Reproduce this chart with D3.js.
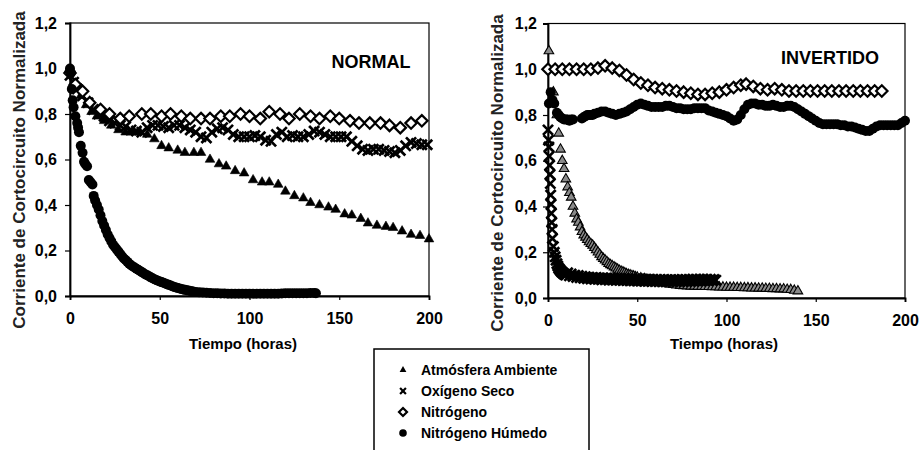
<!DOCTYPE html>
<html><head><meta charset="utf-8">
<script src="https://cdn.jsdelivr.net/npm/d3@7"></script>
<style>body{margin:0;background:#fff}svg{display:block}</style>
</head><body>
<svg id="chart" width="924" height="450"></svg>
<script>
// ---------- DATA ----------
const yTicks = [0, 0.2, 0.4, 0.6, 0.8, 1.0, 1.2];
const xTicks = [0, 50, 100, 150, 200];
const seriesNames = ["Atmósfera Ambiente", "Oxígeno Seco", "Nitrógeno", "Nitrógeno Húmedo"];
const panelTitles = ["NORMAL", "INVERTIDO"];
const xTitle = "Tiempo (horas)";
const yTitle = "Corriente de Cortocircuito Normalizada";

// NORMAL panel  [hours, value]
const ambienteNormal = [[0,0.99],[3,0.93],[6,0.88],[9,0.84],[12,0.81],[15,0.79],[19,0.77],[23,0.75],[27,0.73],[31,0.72],[35,0.72],[39,0.72],[43,0.71],[47,0.69],[51,0.66],[55,0.65],[60,0.64],[64,0.63],[69,0.63],[73,0.63],[78,0.60],[83,0.58],[87,0.57],[92,0.55],[97,0.54],[102,0.51],[107,0.50],[111,0.50],[116,0.49],[120,0.46],[125,0.44],[130,0.43],[134,0.41],[139,0.40],[144,0.39],[148,0.38],[153,0.36],[157,0.355],[162,0.34],[166,0.32],[171,0.31],[176,0.305],[180,0.30],[185,0.285],[190,0.27],[195,0.265],[200,0.25]];
const oxigenoNormal = [[0,0.97],[2,0.94],[4,0.91],[7,0.88],[10,0.85],[13,0.82],[16,0.80],[19,0.79],[22,0.77],[25,0.76],[28,0.75],[31,0.745],[34,0.73],[37,0.725],[40,0.72],[43,0.74],[46,0.75],[49,0.75],[52,0.745],[55,0.74],[58,0.75],[61,0.75],[64,0.74],[67,0.73],[70,0.72],[73,0.70],[76,0.695],[79,0.72],[82,0.735],[85,0.74],[88,0.73],[91,0.71],[94,0.70],[97,0.70],[100,0.70],[103,0.705],[106,0.70],[109,0.685],[112,0.68],[115,0.71],[118,0.72],[121,0.70],[124,0.705],[127,0.70],[130,0.70],[133,0.71],[136,0.725],[139,0.72],[142,0.71],[145,0.70],[148,0.70],[151,0.70],[154,0.70],[157,0.68],[160,0.66],[163,0.645],[166,0.64],[169,0.645],[172,0.645],[175,0.64],[178,0.635],[181,0.63],[184,0.64],[187,0.66],[190,0.675],[193,0.67],[196,0.665],[199,0.665]];
const nitrogenoNormal = [[0,0.98],[3,0.93],[7,0.90],[11,0.85],[17,0.82],[22,0.80],[28,0.78],[33,0.79],[40,0.80],[45,0.80],[51,0.79],[56,0.80],[62,0.79],[67,0.78],[73,0.78],[78,0.78],[84,0.79],[89,0.79],[95,0.80],[100,0.79],[106,0.78],[111,0.81],[117,0.80],[122,0.78],[128,0.80],[134,0.79],[139,0.78],[145,0.79],[150,0.78],[156,0.77],[161,0.76],[167,0.76],[173,0.76],[178,0.75],[184,0.74],[190,0.76],[196,0.77]];
const humedoNormal = [[0,1.0],[0.5,0.98],[1,0.91],[1.5,0.86],[2,0.83],[3,0.79],[4,0.76],[4.5,0.74],[5,0.72],[6,0.66],[7,0.63],[7.8,0.59],[8.5,0.58],[9.5,0.57],[10.5,0.51],[11.5,0.50],[12.5,0.49],[13.2,0.44],[14,0.42],[15,0.40],[16,0.38],[17,0.355],[18,0.33],[19,0.31],[20,0.29],[21,0.27],[22,0.255],[23,0.24],[24,0.225],[25,0.215],[26,0.205],[27,0.195],[28,0.185],[29,0.175],[30,0.165],[31,0.158],[32,0.15],[33,0.142],[34,0.135],[35,0.13],[36,0.125],[37,0.12],[38,0.115],[39,0.11],[40,0.105],[41,0.1],[42,0.095],[43,0.091],[44,0.087],[45,0.082],[46,0.078],[47,0.074],[48,0.07],[49,0.067],[50,0.064],[51,0.061],[52,0.058],[53,0.055],[54,0.052],[55,0.049],[56,0.046],[57,0.043],[58,0.04],[59,0.037],[60,0.035],[61,0.033],[62,0.031],[63,0.029],[64,0.027],[65,0.025],[66,0.024],[67,0.022],[68,0.021],[69,0.019],[70,0.018],[72,0.016],[74,0.015],[76,0.014],[78,0.013],[80,0.012],[82,0.012],[84,0.011],[86,0.011],[88,0.01],[90,0.01],[92,0.01],[94,0.01],[96,0.01],[98,0.01],[100,0.01],[102,0.01],[104,0.01],[106,0.01],[108,0.01],[110,0.01],[112,0.01],[114,0.01],[116,0.01],[118,0.011],[120,0.012],[122,0.012],[124,0.012],[126,0.012],[128,0.012],[130,0.012],[132,0.012],[134,0.013],[136,0.013],[137,0.012]];

// INVERTIDO panel  [hours, value]
const ambienteInvertido = [[0.5,1.08],[3,0.90],[5,0.80],[6,0.72],[7,0.65],[8,0.60],[9,0.565],[10,0.52],[11,0.485],[12,0.46],[13,0.44],[14,0.40],[15,0.37],[16,0.345],[17,0.33],[18,0.31],[19,0.29],[20,0.275],[21,0.265],[22,0.255],[23,0.245],[24,0.237],[25,0.23],[26,0.22],[27,0.21],[28,0.2],[29,0.19],[30,0.18],[31,0.172],[32,0.165],[33,0.158],[34,0.15],[35,0.145],[36,0.14],[37,0.135],[38,0.13],[39,0.125],[40,0.12],[41,0.116],[42,0.113],[43,0.109],[44,0.105],[45,0.102],[46,0.1],[47,0.097],[48,0.095],[49,0.092],[50,0.09],[52,0.087],[54,0.084],[56,0.08],[58,0.077],[60,0.074],[62,0.07],[64,0.067],[66,0.064],[68,0.06],[70,0.058],[72,0.056],[74,0.054],[76,0.053],[78,0.052],[80,0.051],[82,0.051],[84,0.05],[86,0.05],[88,0.049],[90,0.049],[92,0.048],[94,0.048],[96,0.047],[98,0.047],[100,0.046],[102,0.046],[104,0.046],[106,0.045],[108,0.045],[110,0.044],[112,0.044],[114,0.043],[116,0.043],[118,0.042],[120,0.042],[122,0.041],[124,0.041],[126,0.04],[128,0.04],[130,0.039],[132,0.039],[134,0.037],[136,0.036],[138,0.033],[140,0.03]];
const oxigenoInvertido = [[0,0.735],[0.3,0.69],[0.5,0.66],[0.7,0.62],[0.9,0.58],[1.1,0.54],[1.3,0.50],[1.5,0.45],[1.7,0.41],[1.9,0.37],[2.1,0.33],[2.3,0.30],[2.5,0.26],[3,0.225],[3.5,0.20],[4,0.18],[4.5,0.165],[5,0.15],[5.5,0.14],[6,0.13],[6.5,0.125],[7,0.12],[7.5,0.115],[8,0.112],[8.5,0.108],[9,0.105],[9.5,0.103],[10,0.10],[11,0.11],[12,0.097],[13,0.105],[14,0.094],[15,0.10],[16,0.09],[17,0.098],[18,0.088],[19,0.095],[20,0.086],[21,0.093],[22,0.084],[23,0.091],[24,0.083],[25,0.09],[26,0.082],[27,0.09],[28,0.082],[29,0.088],[30,0.08],[31,0.088],[32,0.08],[33,0.087],[34,0.079],[35,0.087],[36,0.079],[37,0.086],[38,0.078],[39,0.086],[40,0.078],[41,0.085],[42,0.077],[43,0.085],[44,0.077],[45,0.084],[46,0.075],[47,0.084],[48,0.075],[49,0.083],[50,0.074],[51,0.083],[52,0.074],[53,0.082],[54,0.073],[55,0.082],[56,0.073],[57,0.082],[58,0.072],[59,0.081],[60,0.072],[61,0.081],[62,0.072],[63,0.081],[64,0.071],[65,0.081],[66,0.071],[67,0.08],[68,0.071],[69,0.08],[70,0.071],[71,0.08],[72,0.071],[73,0.08],[74,0.072],[75,0.081],[76,0.072],[77,0.081],[78,0.072],[79,0.081],[80,0.073],[81,0.082],[82,0.073],[83,0.082],[84,0.074],[85,0.082],[86,0.074],[87,0.082],[88,0.075],[89,0.082],[90,0.075],[91,0.082],[92,0.076],[93,0.081],[94,0.078]];
const nitrogenoInvertido = [[0,1.0],[4,1.0],[8,1.0],[12,1.0],[16,1.0],[20,1.0],[24,1.0],[28,1.005],[32,1.015],[36,1.005],[40,0.995],[44,0.975],[48,0.955],[52,0.94],[56,0.93],[60,0.92],[64,0.915],[68,0.91],[72,0.905],[76,0.9],[80,0.895],[84,0.89],[88,0.89],[92,0.895],[96,0.9],[100,0.91],[104,0.92],[108,0.93],[111,0.935],[115,0.925],[119,0.915],[123,0.91],[127,0.915],[131,0.91],[135,0.905],[139,0.905],[143,0.905],[147,0.905],[151,0.905],[155,0.905],[159,0.905],[163,0.905],[167,0.905],[171,0.905],[175,0.905],[179,0.905],[183,0.905],[187,0.905]];
const humedoInvertido = [[0.5,0.85],[1.5,0.90],[2.5,0.865],[3.5,0.85],[5,0.81],[6,0.80],[7,0.79],[8,0.785],[9,0.78],[10,0.78],[11,0.78],[12,0.775],[13,0.78],[14,0.78],[19,0.785],[20,0.79],[21,0.795],[22,0.80],[23,0.80],[24,0.80],[25,0.80],[26,0.805],[28,0.81],[30,0.815],[32,0.815],[34,0.81],[36,0.805],[38,0.80],[40,0.805],[42,0.81],[44,0.815],[46,0.825],[48,0.835],[50,0.845],[52,0.85],[54,0.845],[56,0.84],[58,0.835],[60,0.835],[62,0.835],[64,0.835],[66,0.84],[68,0.84],[70,0.835],[72,0.83],[74,0.83],[76,0.825],[78,0.825],[80,0.825],[82,0.83],[84,0.83],[86,0.83],[88,0.83],[90,0.82],[92,0.815],[94,0.81],[96,0.805],[98,0.80],[100,0.795],[102,0.785],[104,0.775],[106,0.78],[108,0.80],[110,0.825],[112,0.845],[114,0.85],[116,0.85],[118,0.845],[120,0.845],[122,0.84],[124,0.84],[126,0.845],[128,0.84],[130,0.835],[132,0.835],[134,0.84],[136,0.84],[138,0.835],[140,0.825],[142,0.815],[144,0.805],[146,0.795],[148,0.785],[150,0.775],[152,0.765],[154,0.76],[156,0.76],[158,0.76],[160,0.76],[162,0.76],[164,0.755],[166,0.755],[168,0.75],[170,0.75],[172,0.745],[174,0.74],[176,0.735],[178,0.73],[180,0.73],[182,0.74],[184,0.75],[186,0.755],[188,0.755],[190,0.755],[192,0.755],[194,0.755],[196,0.755],[198,0.765],[200,0.775]];

// ---------- DRAWING ----------
const svg = d3.select("#chart");
const FONT = "'Liberation Sans', Arial, sans-serif";
const fmt = d => d3.format(".1f")(d).replace(".", ",");

const diamondType = { draw(ctx, size) { const r = Math.sqrt(size) / 2; ctx.moveTo(0, -r); ctx.lineTo(r, 0); ctx.lineTo(0, r); ctx.lineTo(-r, 0); ctx.closePath(); } };

const panels = [
  { title: panelTitles[0], xr: [70, 429], yr: [296, 23], ypad: 8, titleX: 371, titleY: 68, yTitleX: 19, yTitleY: 170, xTitleX: 243,
    data: [ambienteNormal, oxigenoNormal, nitrogenoNormal, humedoNormal], triFill: "#000", dotR: 5 },
  { title: panelTitles[1], xr: [548, 905], yr: [298, 23.5], ypad: 6, titleX: 830, titleY: 64, yTitleX: 497, yTitleY: 173, xTitleX: 724,
    data: [ambienteInvertido, oxigenoInvertido, nitrogenoInvertido, humedoInvertido], triFill: "#8a8a8a", dotR: 5 }
];

panels.forEach(p => {
  const x = d3.scaleLinear().domain([0, 200]).range(p.xr);
  const y = d3.scaleLinear().domain([0, 1.2]).range(p.yr);
  const g = svg.append("g");

  g.append("rect").attr("x", x(0)).attr("y", y(1.2)).attr("width", x(200) - x(0)).attr("height", y(0) - y(1.2))
    .attr("fill", "none").attr("stroke", "#000").attr("stroke-width", 1.2);

  const ax = g.append("g").attr("transform", `translate(0,${y(0)})`)
    .call(d3.axisBottom(x).tickValues(xTicks).tickSize(4).tickPadding(13).tickFormat(d3.format("d")));
  const ay = g.append("g").attr("transform", `translate(${x(0)},0)`)
    .call(d3.axisLeft(y).tickValues(yTicks).tickSize(5).tickPadding(p.ypad).tickFormat(fmt));
  [ax, ay].forEach(a => {
    a.select(".domain").attr("stroke", "#000").attr("stroke-width", 1.8);
    a.selectAll(".tick line").attr("stroke", "#000").attr("stroke-width", 1.2);
    a.selectAll(".tick text").attr("fill", "#000").style("font", `bold 16px ${FONT}`);
  });

  const [amb, oxi, nit, hum] = p.data;
  g.append("g").selectAll("path").data(amb).join("path")
    .attr("transform", d => `translate(${x(d[0])},${y(d[1])})`)
    .attr("d", d3.symbol(d3.symbolTriangle, 40))
    .attr("fill", p.triFill).attr("stroke", "#000").attr("stroke-width", p.triFill === "#000" ? 0.6 : 1.1);
  g.append("g").selectAll("path").data(oxi).join("path")
    .attr("transform", d => `translate(${x(d[0])},${y(d[1])})`)
    .attr("d", d3.symbol(d3.symbolTimes, 68))
    .attr("fill", "none").attr("stroke", "#000").attr("stroke-width", 2.7);
  g.append("g").selectAll("path").data(nit).join("path")
    .attr("transform", d => `translate(${x(d[0])},${y(d[1])})`)
    .attr("d", d3.symbol(diamondType, 130))
    .attr("fill", "#fff").attr("stroke", "#000").attr("stroke-width", 2.2);
  g.append("g").selectAll("circle").data(hum).join("circle")
    .attr("cx", d => x(d[0])).attr("cy", d => y(d[1])).attr("r", p.dotR).attr("fill", "#000");

  g.append("text").attr("x", p.titleX).attr("y", p.titleY).attr("text-anchor", "middle")
    .style("font", `bold 18px ${FONT}`).attr("fill", "#000").text(p.title);
  g.append("text").attr("transform", `translate(${p.yTitleX},${p.yTitleY}) rotate(-90)`)
    .attr("text-anchor", "middle").attr("dy", "0.35em")
    .style("font", `bold 17px ${FONT}`).attr("fill", "#222").text(yTitle);
  g.append("text").attr("x", p.xTitleX).attr("y", 349).attr("text-anchor", "middle")
    .style("font", `bold 15px ${FONT}`).attr("fill", "#000").text(xTitle);
});

// legend
const lg = svg.append("g");
lg.append("rect").attr("x", 374).attr("y", 349).attr("width", 215).attr("height", 120)
  .attr("fill", "#fff").attr("stroke", "#000").attr("stroke-width", 1.5);
const rowY = d3.scalePoint().domain(seriesNames).range([370, 433]);
const legSyms = [
  g => g.append("path").attr("d", d3.symbol(d3.symbolTriangle, 20)).attr("fill", "#000"),
  g => g.append("path").attr("d", d3.symbol(d3.symbolTimes, 24)).attr("fill", "none").attr("stroke", "#000").attr("stroke-width", 2.2),
  g => g.append("path").attr("d", d3.symbol(diamondType, 64)).attr("fill", "#fff").attr("stroke", "#000").attr("stroke-width", 2.2),
  g => g.append("circle").attr("r", 3.8).attr("fill", "#000")
];
seriesNames.forEach((n, i) => {
  const r = lg.append("g").attr("transform", `translate(403,${rowY(n)})`);
  legSyms[i](r);
  lg.append("text").attr("x", 421).attr("y", rowY(n)).attr("dy", "0.36em")
    .style("font", `bold 14px ${FONT}`).attr("fill", "#000").text(n);
});
</script>
</body></html>
